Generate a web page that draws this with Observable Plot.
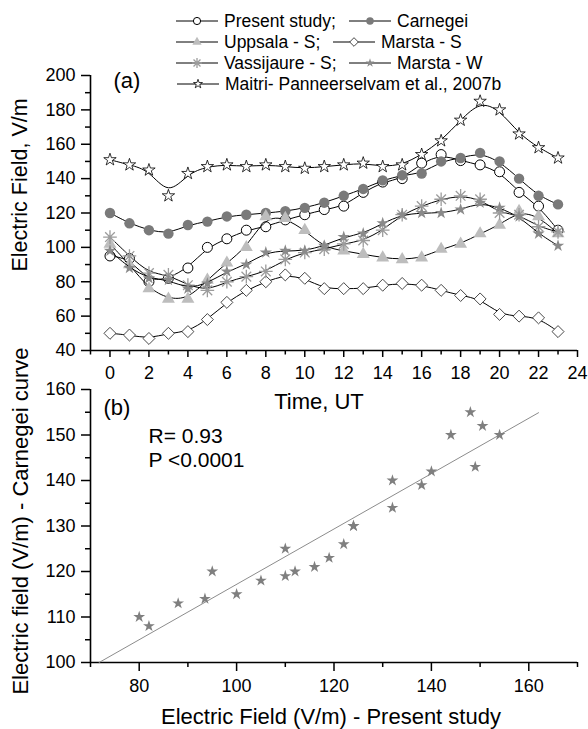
<!DOCTYPE html>
<html>
<head>
<meta charset="utf-8">
<script src="https://cdn.jsdelivr.net/npm/d3@7"></script>
<script src="https://cdn.jsdelivr.net/npm/@observablehq/plot@0.6"></script>
<style>
  html, body { margin: 0; padding: 0; background: #fff; }
  #chart { position: relative; width: 588px; height: 729px; font-family: "Liberation Sans", Arial, sans-serif; }
  #chart svg { position: absolute; left: 0; overflow: visible; }
</style>
</head>
<body>
<div id="chart"></div>
<script>
// ---------------- DATA ----------------
const hours = [0, 1, 2, 3, 4, 5, 6, 7, 8, 9, 10, 11, 12, 13, 14, 15, 16, 17, 18, 19, 20, 21, 22, 23];
const present    = [95, 93.5, 80, 82, 88, 100, 105, 110, 112, 116, 119, 122, 124, 132, 138, 140, 149, 154, 150.5, 148, 144, 132, 124, 110];
const carnegei   = [120, 114, 110, 108, 113, 115, 118, 119, 120, 121, 123, 126, 130, 134, 139, 142, 143, 150, 152, 155, 150, 140, 130, 125];
const uppsala    = [102, 90, 76, 70, 70, 81, 91, 100, 118, 117, 110, 100, 98, 96, 94, 93, 94, 99, 102, 108, 113, 121, 118, 108];
const marstaS    = [50, 49, 47, 50, 51, 58, 68, 75, 80, 84, 82, 76, 76, 76, 78, 79, 78, 75, 72, 70, 61, 60, 59, 51];
const vassijaure = [106, 95, 85, 84, 78, 75, 80, 83, 86, 93, 97, 99, 102, 104, 110, 119, 124, 128, 130, 128, 120, 119, 112, 109];
const marstaW    = [98, 88, 82, 81, 76, 79, 86, 90, 97, 98, 98, 101, 106, 108, 114, 119, 120, 120, 122, 126, 123, 118, 108, 101];
const maitri     = [151, 148, 145, 130, 143, 147, 148, 147, 148, 147, 146, 147, 148, 149, 147, 148, 154, 162, 174, 185, 180, 166, 158, 152];

const seriesNames = ["Present study", "Carnegei", "Uppsala - S", "Marsta - S", "Vassijaure - S", "Marsta - W", "Maitri- Panneerselvam et al., 2007b"];
const seriesValues = [present, carnegei, uppsala, marstaS, vassijaure, marstaW, maitri];

const xTicksA = [0, 2, 4, 6, 8, 10, 12, 14, 16, 18, 20, 22, 24];
const xMinorA = [-1, 1, 3, 5, 7, 9, 11, 13, 15, 17, 19, 21, 23];
const yTicksA = [40, 60, 80, 100, 120, 140, 160, 180, 200];
const yMinorA = [50, 70, 90, 110, 130, 150, 170, 190];
const xTicksB = [80, 100, 120, 140, 160];
const xMinorB = [70, 90, 110, 130, 150, 170];
const yTicksB = [100, 110, 120, 130, 140, 150, 160];
const yMinorB = [105, 115, 125, 135, 145, 155];

const titleA = "Electric Field, V/m";
const xTitleA = "Time, UT";
const titleB = "Electric field (V/m) - Carnegei curve";
const xTitleB = "Electric Field (V/m) - Present study";
const statR = "R= 0.93";
const statP = "P <0.0001";
const fitEnd = 162;

// ---------------- STYLES ----------------
const FONT = "'Liberation Sans', Arial, Helvetica, sans-serif";
const asterisk8 = {
  draw(ctx, size) {
    const r = Math.sqrt(size / Math.PI) * 1.1, d = r * Math.SQRT1_2;
    ctx.moveTo(-r, 0); ctx.lineTo(r, 0);
    ctx.moveTo(0, -r); ctx.lineTo(0, r);
    ctx.moveTo(-d, -d); ctx.lineTo(d, d);
    ctx.moveTo(-d, d); ctx.lineTo(d, -d);
  }
};
const styles = [
  {symbol: d3.symbolCircle,   r: 5,   fill: "white",   stroke: "black", sw: 1},
  {symbol: d3.symbolCircle,   r: 5.2, fill: "#7a7a7a", stroke: "none",  sw: 0},
  {symbol: d3.symbolTriangle, r: 4.8, fill: "#bdbdbd", stroke: "none",  sw: 0},
  {symbol: d3.symbolDiamond2, r: 5.4, fill: "white",   stroke: "#333",  sw: 0.9},
  {symbol: asterisk8,         r: 6.2, fill: "none",    stroke: "#9c9c9c", sw: 1.3},
  {symbol: d3.symbolStar,     r: 3.9, fill: "#8a8a8a", stroke: "none",  sw: 0},
  {symbol: d3.symbolStar,     r: 3.9, fill: "white",   stroke: "black", sw: 0.8}
];

const rows = seriesNames.flatMap((name, s) =>
  hours.map((h, i) => ({series: name, hour: h, value: seriesValues[s][i]})));

const chart = document.getElementById("chart");

// ---------------- PANEL (a) ----------------
const seriesMarks = seriesNames.flatMap((name, s) => {
  const data = rows.filter(d => d.series === name);
  const st = styles[s];
  return [
    Plot.line(data, {x: "hour", y: "value", curve: "basis", stroke: "black", strokeWidth: 1}),
    Plot.dot(data, {x: "hour", y: "value", symbol: st.symbol, r: st.r, fill: st.fill, stroke: st.stroke, strokeWidth: st.sw})
  ];
});

const plotA = Plot.plot({
  width: 588, height: 420,
  marginLeft: 90, marginRight: 11, marginTop: 75, marginBottom: 70,
  x: {domain: [-1, 24]},
  y: {domain: [40, 200]},
  style: {fontFamily: FONT, fontSize: "18px", background: "transparent", color: "black", overflow: "visible"},
  marks: [
    Plot.axisX({ticks: xTicksA, tickSize: 7, tickPadding: 9, label: null, strokeWidth: 1.5}),
    Plot.axisX({ticks: xMinorA, tickSize: 4.5, tickFormat: () => "", label: null, strokeWidth: 1.5}),
    Plot.axisY({ticks: yTicksA, tickSize: 9, tickPadding: 6, label: null, strokeWidth: 1.5}),
    Plot.axisY({ticks: yMinorA, tickSize: 5, tickFormat: () => "", label: null, strokeWidth: 1.5}),
    Plot.ruleX([-1], {strokeWidth: 1.6}),
    Plot.ruleY([40], {strokeWidth: 1.6}),
    ...seriesMarks,
    Plot.text(["(a)"], {frameAnchor: "top-left", dx: 23, dy: 5, fontSize: 22, textAnchor: "start", lineAnchor: "middle"}),
    Plot.text([xTitleA], {frameAnchor: "bottom", dx: -15, dy: 51, fontSize: 22, lineAnchor: "middle"}),
    Plot.text([titleA], {frameAnchor: "left", dx: -70, dy: -28, rotate: -90, fontSize: 21.5, textAnchor: "middle", lineAnchor: "middle"})
  ]
});
plotA.style.top = "0px";
chart.appendChild(plotA);

// ---------------- PANEL (b) ----------------
const pairs = hours.map((h, i) => ({present: present[i], carnegei: carnegei[i]}));
const mx = d3.mean(pairs, d => d.present), my = d3.mean(pairs, d => d.carnegei);
const slope = d3.sum(pairs, d => (d.present - mx) * (d.carnegei - my)) / d3.sum(pairs, d => (d.present - mx) ** 2);
const intercept = my - slope * mx;
const yMinB = yTicksB[0];
const fitStart = (yMinB - intercept) / slope;
const fitLine = [fitStart, fitEnd].map(x => ({x, y: intercept + slope * x}));

const plotB = Plot.plot({
  width: 588, height: 389,
  marginLeft: 90, marginRight: 11, marginTop: 49, marginBottom: 67,
  x: {domain: [70, 170]},
  y: {domain: [100, 160]},
  style: {fontFamily: FONT, fontSize: "18px", background: "transparent", color: "black", overflow: "visible"},
  marks: [
    Plot.axisX({ticks: xTicksB, tickSize: 9, tickPadding: 8, label: null, strokeWidth: 1.5}),
    Plot.axisX({ticks: xMinorB, tickSize: 5, tickFormat: () => "", label: null, strokeWidth: 1.5}),
    Plot.axisY({ticks: yTicksB, tickSize: 9, tickPadding: 6, label: null, strokeWidth: 1.5}),
    Plot.axisY({ticks: yMinorB, tickSize: 5, tickFormat: () => "", label: null, strokeWidth: 1.5}),
    Plot.ruleX([70], {strokeWidth: 1.6}),
    Plot.ruleY([100], {strokeWidth: 1.6}),
    Plot.line(fitLine, {x: "x", y: "y", stroke: "#8c8c8c", strokeWidth: 1}),
    Plot.dot(pairs, {x: "present", y: "carnegei", symbol: "star", r: 3.7, fill: "#7f7f7f"}),
    Plot.text(["(b)"], {frameAnchor: "top-left", dx: 13, dy: 18, fontSize: 22, textAnchor: "start", lineAnchor: "middle"}),
    Plot.text([statR], {frameAnchor: "top-left", dx: 58, dy: 47, fontSize: 21, textAnchor: "start", lineAnchor: "middle"}),
    Plot.text([statP], {frameAnchor: "top-left", dx: 58, dy: 71, fontSize: 21, textAnchor: "start", lineAnchor: "middle"}),
    Plot.text([xTitleB], {frameAnchor: "bottom", dx: -3, dy: 54, fontSize: 22, lineAnchor: "middle"}),
    Plot.text([titleB], {frameAnchor: "left", dx: -70, dy: -5, rotate: -90, fontSize: 22, textAnchor: "middle", lineAnchor: "middle"})
  ]
});
plotB.style.top = "340px";
chart.appendChild(plotB);

// ---------------- LEGEND ----------------
const legendLayout = [
  {s: 0, row: 0, x: 176, semi: true},
  {s: 1, row: 0, x: 349, semi: false},
  {s: 2, row: 1, x: 176, semi: true},
  {s: 3, row: 1, x: 333, semi: false},
  {s: 4, row: 2, x: 176, semi: true},
  {s: 5, row: 2, x: 349, semi: false},
  {s: 6, row: 3, x: 177, semi: false}
];
const rowY = [21, 42, 63, 84];
const legend = d3.select(chart).append("svg")
  .attr("width", 588).attr("height", 100)
  .style("top", "0px")
  .attr("font-family", FONT).attr("font-size", 17.5);
for (const it of legendLayout) {
  const st = styles[it.s];
  const y = rowY[it.row];
  const g = legend.append("g");
  g.append("line").attr("x1", it.x).attr("x2", it.x + 42).attr("y1", y).attr("y2", y)
    .attr("stroke", "black").attr("stroke-width", 1);
  const rr = st.r * 0.72;
  g.append("path")
    .attr("d", d3.symbol(st.symbol, rr * rr * Math.PI)())
    .attr("transform", `translate(${it.x + 21},${y})`)
    .attr("fill", st.fill)
    .attr("stroke", st.stroke).attr("stroke-width", st.sw);
  g.append("text").attr("x", it.x + 48).attr("y", y + 6.3)
    .text(seriesNames[it.s] + (it.semi ? ";" : ""));
}
</script>
</body>
</html>
